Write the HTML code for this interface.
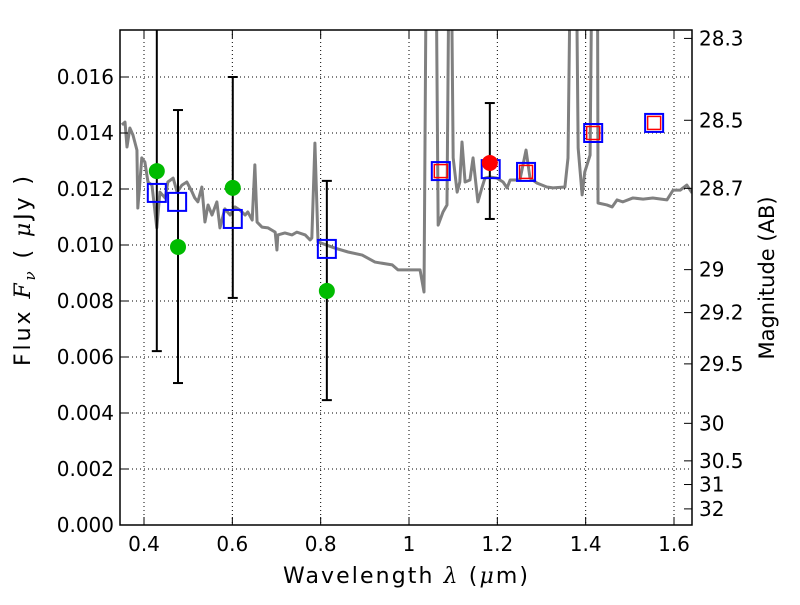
<!DOCTYPE html>
<html><head><meta charset="utf-8"><style>
body{margin:0;background:#fff;}
svg text{font-family:"DejaVu Sans","Liberation Sans",sans-serif;}
</style></head><body>
<svg id="c" width="800" height="600" xmlns="http://www.w3.org/2000/svg"></svg>
<script>
const specLam=[0.350,0.357,0.3615,0.368,0.375,0.384,0.386,0.395,0.402,0.409,0.418,0.429,0.436,0.448,0.454,0.466,0.475,0.486,0.497,0.509,0.515,0.522,0.531,0.538,0.545,0.554,0.565,0.572,0.583,0.595,0.606,0.617,0.629,0.635,0.645,0.651,0.656,0.667,0.681,0.697,0.701,0.703,0.719,0.735,0.746,0.765,0.776,0.780,0.787,0.794,0.832,0.862,0.894,0.923,0.962,0.975,1.025,1.034,1.041,1.059,1.066,1.077,1.086,1.093,1.100,1.109,1.115,1.120,1.127,1.138,1.145,1.156,1.165,1.172,1.183,1.199,1.213,1.222,1.229,1.240,1.251,1.265,1.274,1.290,1.312,1.326,1.353,1.360,1.369,1.376,1.383,1.392,1.398,1.410,1.417,1.426,1.428,1.448,1.460,1.471,1.484,1.507,1.530,1.552,1.584,1.598,1.614,1.629,1.641];
const specFlux=[14.29,14.39,13.5,14.18,13.93,13.39,11.32,13.11,12.96,12.25,12.14,10.61,11.89,11.68,12.25,12.39,11.89,12.14,12.25,11.89,11.68,11.54,12.07,10.82,11.43,11.07,11.54,10.61,11.29,11.07,11.36,11.25,11.07,11.18,10.89,12.86,10.82,10.64,10.61,10.46,9.82,10.36,10.43,10.36,10.46,10.36,10.18,10.25,13.64,10.11,9.89,9.75,9.64,9.39,9.29,9.11,9.11,8.32,25,25,10.71,11.18,11.43,25,13.11,11.89,12.25,13.68,12.25,12.32,13.11,11.54,12.04,12.39,12.43,12.39,12.25,12.04,12.32,12.32,12.32,13.39,12.39,12.21,12.07,12.04,12.07,13.11,25,25,13.46,11.79,12.61,13.21,25,25,11.5,11.43,11.36,11.61,11.54,11.68,11.64,11.68,11.61,11.96,11.96,12.14,11.86];
const obsLam=[0.429,0.477,0.601,0.814];
const obsFlux=[12.64,9.93,12.04,8.36];
const obsLo=[6.21,5.07,8.11,4.46];
const obsHi=[25,14.82,16.0,12.29];
const detLam=[1.183];const detFlux=[12.93];const detLo=[10.93];const detHi=[15.07];
const modLam=[0.429,0.475,0.601,0.814,1.072,1.185,1.265,1.417,1.555];
const modFlux=[11.86,11.54,10.93,9.86,12.64,12.71,12.61,14.0,14.36];
const redLam=[1.072,1.265,1.417,1.555];
const redFlux=[12.64,12.61,14.0,14.36];
const yTicks=[0,0.002,0.004,0.006,0.008,0.010,0.012,0.014,0.016];
const xTicks=[0.4,0.6,0.8,1.0,1.2,1.4,1.6];
const xTickLabels=["0.4","0.6","0.8","1","1.2","1.4","1.6"];
const magTicks=[28.3,28.5,28.7,29,29.2,29.5,30,30.5,31,32];

const L=120,R=692,T=30,B=525;
const X=l=>144+(l-0.4)*441.67;
const Y=f=>525-f*28000;
const Ym=v=>Y(v/1000);
const svg=document.getElementById('c');
const NS='http://www.w3.org/2000/svg';
function mk(tag,attrs,parent){const e=document.createElementNS(NS,tag);for(const k in attrs)e.setAttribute(k,attrs[k]);(parent||svg).appendChild(e);return e;}

const defs=mk('defs',{});
const cp=mk('clipPath',{id:'clip'},defs);
mk('rect',{x:L,y:T,width:R-L,height:B-T},cp);

for(const t of xTicks){const g=mk('line',{x1:X(t),x2:X(t),y1:T,y2:B,stroke:'#000','stroke-dasharray':'1,3','stroke-width':1});

}
for(const t of yTicks){const g=mk('line',{x1:L,x2:R,y1:Y(t),y2:Y(t),stroke:'#000','stroke-dasharray':'1,3','stroke-width':1});

}

const plot=mk('g',{'clip-path':'url(#clip)'});


const sp=mk('polyline',{points:specLam.map((l,i)=>X(l)+','+Ym(specFlux[i])).join(' '),fill:'none',stroke:'#808080','stroke-width':3,'stroke-linejoin':'round'},plot);



function errbar(l,lo,hi,name){
  const g=mk('g',{},plot);
  
  
  mk('line',{x1:X(l),x2:X(l),y1:Ym(lo),y2:Ym(hi),stroke:'#000','stroke-width':2},g);
  mk('line',{x1:X(l)-5,x2:X(l)+5,y1:Ym(lo),y2:Ym(lo),stroke:'#000','stroke-width':2},g);
  mk('line',{x1:X(l)-5,x2:X(l)+5,y1:Ym(hi),y2:Ym(hi),stroke:'#000','stroke-width':2},g);
}
obsLam.forEach((l,i)=>errbar(l,obsLo[i],obsHi[i],'error-bar'));
detLam.forEach((l,i)=>errbar(l,detLo[i],detHi[i],'detection-error-bar'));
obsLam.forEach((l,i)=>{const c=mk('circle',{cx:X(l),cy:Ym(obsFlux[i]),r:8,fill:'#00bb00'},plot);

});
modLam.forEach((l,i)=>{const s=mk('rect',{x:X(l)-9,y:Ym(modFlux[i])-9,width:18,height:18,fill:'none',stroke:'#0000ff','stroke-width':2},plot);

});
redLam.forEach((l,i)=>{const s=mk('rect',{x:X(l)-6.5,y:Ym(redFlux[i])-6.5,width:13,height:13,fill:'none',stroke:'#ff0000','stroke-width':1.5},plot);

});
detLam.forEach((l,i)=>{const c=mk('circle',{cx:X(l),cy:Ym(detFlux[i]),r:8,fill:'#ff0000'},plot);

});

const fr=mk('rect',{x:L,y:T,width:R-L,height:B-T,fill:'none',stroke:'#000','stroke-width':1.5});



xTicks.forEach((t,i)=>{
  mk('line',{x1:X(t),x2:X(t),y1:B,y2:B-8,stroke:'#000'});
  mk('line',{x1:X(t),x2:X(t),y1:T,y2:T+8,stroke:'#000'});
  const tx=mk('text',{x:X(t),y:B+26,'font-size':20,'text-anchor':'middle'});tx.textContent=xTickLabels[i];
  
  
});
yTicks.forEach(t=>{
  mk('line',{x1:L,x2:L+8,y1:Y(t),y2:Y(t),stroke:'#000'});
  const tx=mk('text',{x:L-6,y:Y(t)+7,'font-size':20,'text-anchor':'end'});tx.textContent=t.toFixed(3);
  
  
});
magTicks.forEach(m=>{
  const f=Math.pow(10,(23.9-m)/2.5);const y=Y(f);
  mk('line',{x1:R,x2:R-8,y1:y,y2:y,stroke:'#000'});
  const tx=mk('text',{x:R+7,y:y+7,'font-size':20});tx.textContent=String(m);
  
  
});
</script>
<svg width="800" height="600" style="position:absolute;left:0;top:0" xmlns="http://www.w3.org/2000/svg">
<text x="283" y="583" font-size="22" textLength="245" lengthAdjust="spacing" font-family="DejaVu Sans, sans-serif">Wavelength  <tspan font-style="italic" font-family="DejaVu Serif, serif">λ</tspan> (<tspan font-style="italic" font-family="DejaVu Serif, serif">μ</tspan>m)</text>
<text transform="translate(30,366) rotate(-90)" font-size="22" textLength="190" lengthAdjust="spacing" font-family="DejaVu Sans, sans-serif">Flux  <tspan font-style="italic" font-family="DejaVu Serif, serif">F</tspan><tspan font-style="italic" font-size="15" dy="5" font-family="DejaVu Serif, serif">ν</tspan><tspan dy="-5">  ( </tspan><tspan font-style="italic" font-family="DejaVu Serif, serif">μ</tspan>Jy )</text>
<text transform="translate(774,278) rotate(-90)" font-size="21" text-anchor="middle" font-family="DejaVu Sans, sans-serif">Magnitude (AB)</text>
</svg>
</body></html>
